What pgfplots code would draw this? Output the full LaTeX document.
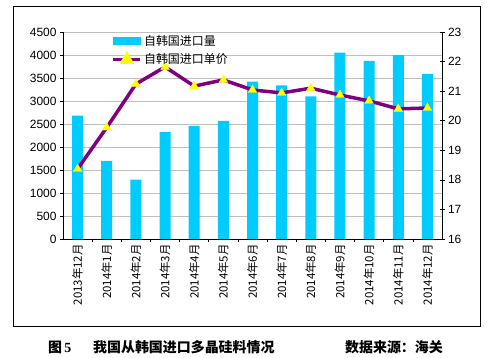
\documentclass[border=0pt]{standalone}
\usepackage{pgfplots}
\pgfplotsset{compat=1.18}
\usepackage{fontspec}
\setmainfont{Liberation Sans}
\newfontfamily\cjk{Noto Sans CJK SC}
\newfontfamily\tnr{Liberation Serif}
\definecolor{barcyan}{RGB}{0,204,255}
\definecolor{linepurple}{RGB}{128,0,128}
\definecolor{mkyellow}{RGB}{255,255,0}
\definecolor{gridgray}{RGB}{192,192,192}
\pgfplotstableread{
x vol price
0 2680 18.37
1 1700 19.77
2 1290 21.24
3 2330 21.82
4 2460 21.17
5 2570 21.38
6 3420 21.04
7 3340 20.94
8 3100 21.10
9 4050 20.87
10 3870 20.67
11 4000 20.40
12 3590 20.43
}\data
\begin{document}
\begin{tikzpicture}
\path (0bp,0bp) rectangle (498bp,358bp);
\draw[line width=0.9bp] (13bp,32bp) rectangle (480bp,352bp);
\begin{axis}[
  at={(63bp,119bp)}, anchor=south west,
  scale only axis, width=379bp, height=207bp,
  xmin=-0.5, xmax=12.5, ymin=0, ymax=4500,
  ytick distance=500,
  axis x line*=bottom, axis y line*=left,
  axis line style={-, line width=0.8bp},
  ymajorgrids, grid style={gridgray, line width=0.8bp},
  xtick={0,...,12},
  xticklabels={2013年12月,2014年1月,2014年2月,2014年3月,2014年4月,2014年5月,2014年6月,2014年7月,2014年8月,2014年9月,2014年10月,2014年11月,2014年12月},
  xticklabel style={rotate=90, anchor=east, font=\cjk\fontsize{11.5}{13}\selectfont, inner sep=2bp},
  major x tick style={draw=none},
  minor xtick={0.5,1.5,...,11.5},
  minor x tick style={black, line width=0.6bp},
  minor tick length=3bp,
  yticklabel style={font=\fontsize{12}{14}\selectfont, /pgf/number format/1000 sep={}},
  /pgf/number format/assume math mode=true,
  y tick style={black, line width=0.6bp},
  tick align=outside,
  major tick length=3bp,
  clip=false,
]
\addplot[ybar, bar width=11bp, fill=barcyan, draw=none] table[x=x, y=vol] {\data};
\end{axis}
\begin{axis}[
  at={(63bp,119bp)}, anchor=south west,
  scale only axis, width=379bp, height=207bp,
  xmin=-0.5, xmax=12.5, ymin=16, ymax=23,
  ytick distance=1,
  axis x line=none, axis y line*=right,
  axis line style={-, line width=0.8bp},
  yticklabel style={font=\fontsize{12}{14}\selectfont},
  /pgf/number format/assume math mode=true,
  y tick style={black, line width=0.6bp},
  tick align=center, major tick length=5bp,
  legend style={at={(0.125,1.0)}, anchor=north west, draw=none, fill=none,
    font=\cjk\fontsize{12}{14}\selectfont, row sep=3bp, inner sep=1bp},
  legend cell align=left,
  clip=false,
]
\addlegendimage{legend image code/.code={\fill[barcyan] (0bp,-3.5bp) rectangle (27bp,3.5bp);}}
\addlegendentry{自韩国进口量}
\addplot[linepurple, line width=3.5bp, mark=triangle*, mark size=5bp,
  mark options={fill=mkyellow, draw=mkyellow, line width=0.3bp},
  legend image code/.code={\draw[linepurple, line width=3.5bp] (0bp,0bp) -- (27bp,0bp); \fill[mkyellow] (13.5bp,0bp) ++(90:5bp) -- ++(-120:8.66bp) -- ++(0:8.66bp) -- cycle;}]
  table[x=x, y=price] {\data};
\addlegendentry{自韩国进口单价}
\end{axis}
\node[anchor=base west, inner sep=0] at (48bp,6bp) {\cjk\bfseries\fontsize{14}{16}\selectfont 图\,{\tnr\bfseries 5}};
\node[anchor=base west, inner sep=0] at (93bp,6bp) {\cjk\bfseries\fontsize{14}{16}\selectfont 我国从韩国进口多晶硅料情况};
\node[anchor=base west, inner sep=0] at (345bp,6bp) {\cjk\bfseries\fontsize{14}{16}\selectfont 数据来源：海关};
\end{tikzpicture}
\end{document}
